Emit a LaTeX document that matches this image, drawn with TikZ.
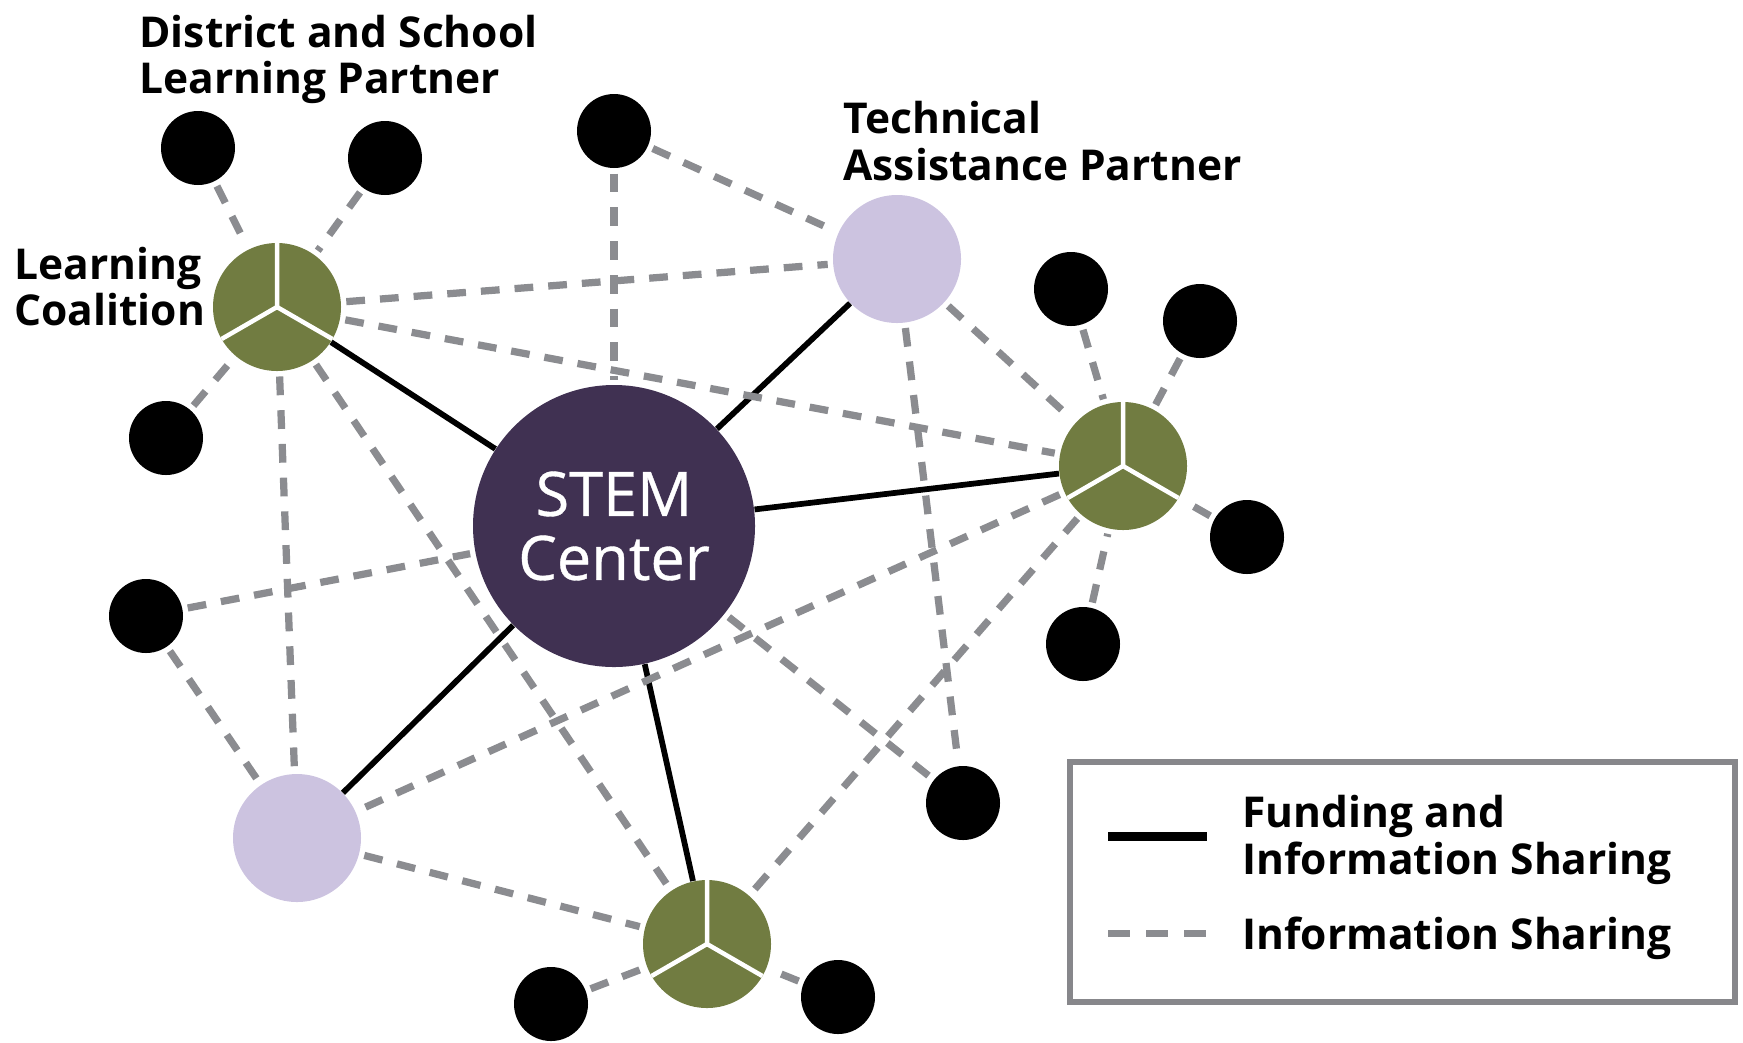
\documentclass[tikz,border=0pt]{standalone}
\usepackage{fontspec}
\setmainfont{Open Sans}
\newfontfamily\stemfont{Open Sans}[FakeBold=0.6]
\pgfdeclarelayer{background}
\pgfsetlayers{background,main}
\definecolor{stemc}{HTML}{403152}
\definecolor{lavc}{HTML}{CCC3E0}
\definecolor{olivec}{HTML}{717C41}
\definecolor{dashc}{HTML}{8B8C90}
\definecolor{boxc}{HTML}{87878B}
\begin{document}
\begin{tikzpicture}[x=0.4pt,y=-0.4pt,
  stemnode/.style={circle, fill=stemc, minimum size=112.8pt, inner sep=0pt, text=white, align=center,
    font=\stemfont\fontsize{24.5}{25.6}\selectfont},
  tapnode/.style={circle, fill=lavc, minimum size=51.2pt, inner sep=0pt},
  lcnode/.style={circle, fill=olivec, minimum size=51.2pt, inner sep=0pt,
    path picture={\draw[white, line width=1.8pt]
      (path picture bounding box.center) -- ++(90:30pt)
      (path picture bounding box.center) -- ++(210:30pt)
      (path picture bounding box.center) -- ++(330:30pt);}},
  dotnode/.style={circle, fill=black, minimum size=29.6pt, inner sep=0pt},
  lbl/.style={anchor=base west, inner sep=0pt, font=\fontsize{17}{19}\selectfont\bfseries},
  fund/.style={draw=black, line width=2.3pt},
  info/.style={draw=dashc, line width=2.9pt, dash pattern=on 7.5pt off 6pt, shorten >=2pt, shorten <=2pt},
]
\useasboundingbox (0,0) rectangle (1743,1042);

% main nodes
\node[stemnode] (stem) at (614,526) {STEM\\Center};
\node[lcnode] (lc1) at (277,307) {};
\node[tapnode] (tap1) at (897,259) {};
\node[lcnode] (lc2) at (1123,466) {};
\node[tapnode] (tap2) at (297,838) {};
\node[lcnode] (lc3) at (707,944) {};

% dots
\node[dotnode] (d1) at (198,148) {};
\node[dotnode] (d2) at (385,158) {};
\node[dotnode] (d3) at (614,131) {};
\node[dotnode] (d4) at (166,438) {};
\node[dotnode] (d5) at (146,616) {};
\node[dotnode] (d6) at (1071,289) {};
\node[dotnode] (d7) at (1200,321) {};
\node[dotnode] (d8) at (1247,537) {};
\node[dotnode] (d9) at (1083,644) {};
\node[dotnode] (d10) at (963,803) {};
\node[dotnode] (d11) at (551,1004) {};
\node[dotnode] (d12) at (838,997) {};

\begin{pgfonlayer}{background}
% funding lines
\draw[fund] (stem) -- (lc1);
\draw[fund] (stem) -- (tap1);
\draw[fund] (stem) -- (lc2);
\draw[fund] (stem) -- (tap2);
\draw[fund] (stem) -- (lc3);
% information sharing
\draw[info] (d1) -- (lc1);
\draw[info] (d2) -- (lc1);
\draw[info] (d4) -- (lc1);
\draw[info] (lc1) -- (tap1);
\draw[info] (lc1) -- (lc2);
\draw[info] (lc1) -- (tap2);
\draw[info] (lc1) -- (lc3);
\draw[info] (d3) -- (tap1);
\draw[info] (d3) -- (stem);
\draw[info] (tap1) -- (lc2);
\draw[info] (tap1) -- (d10);
\draw[info] (d6) -- (lc2);
\draw[info] (d7) -- (lc2);
\draw[info] (d8) -- (lc2);
\draw[info] (d9) -- (lc2);
\draw[info] (lc2) -- (tap2);
\draw[info] (lc2) -- (lc3);
\draw[info] (d5) -- (stem);
\draw[info] (d5) -- (tap2);
\draw[info] (stem) -- (d10);
\draw[info] (tap2) -- (lc3);
\draw[info] (d11) -- (lc3);
\draw[info] (d12) -- (lc3);
\end{pgfonlayer}

% labels
\node[lbl] (dsl1) at (139,47) {District and School};
\node[lbl] (dsl2) at (139,93) {Learning Partner};
\node[lbl] (tal1) at (843,133) {Technical};
\node[lbl] (tal2) at (843,180) {Assistance Partner};
\node[lbl] (lcl1) at (14,279) {Learning};
\node[lbl] (lcl2) at (14,325) {Coalition};

% legend
\node[draw=boxc, line width=2.4pt, minimum width=266pt, minimum height=96pt, inner sep=0pt] (legend) at (1402,882) {};
\coordinate (la1) at (1108,836);
\coordinate (la2) at (1207,836);
\coordinate (lb1) at (1108,933);
\coordinate (lb2) at (1207,933);
\draw[black, line width=3.6pt] (la1) -- (la2);
\draw[dashc, line width=2.8pt, dash pattern=on 8.8pt off 6.4pt] (lb1) -- (lb2);
\node[lbl] (lg1) at (1242,827) {Funding and};
\node[lbl] (lg2) at (1242,874) {Information Sharing};
\node[lbl] (lg3) at (1242,949) {Information Sharing};
\end{tikzpicture}
\end{document}
